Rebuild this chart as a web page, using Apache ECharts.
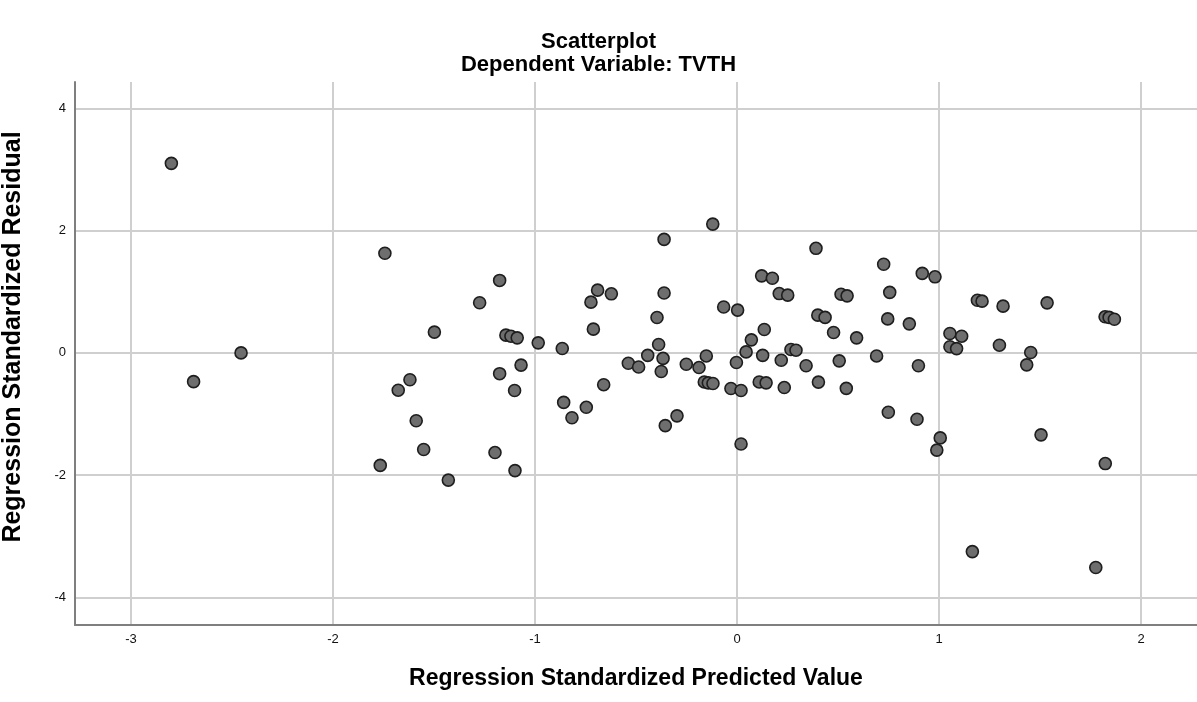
<!DOCTYPE html>
<html>
<head>
<meta charset="utf-8">
<script src="https://cdn.jsdelivr.net/npm/echarts@6/dist/echarts.min.js"></script>
<style>
  html, body { margin: 0; padding: 0; background: #fff; }
  #chart { width: 1197px; height: 702px; }
</style>
</head>
<body>
<div id="chart"></div>
<script>
// Regression Standardized Predicted Value (x)
var predicted = [
  -2.80, -2.69, -2.455, -1.743, -1.498, -1.619, -1.677, -1.588, -1.551, -1.766,
  -0.120, -0.361, 0.391, -1.175, -1.274, -0.690, -0.622, -0.723, -0.361, 0.122,
  0.175, 0.209, 0.251, -0.066, 0.003, -1.144, -1.119, -1.088, -0.984, -0.865,
  -0.711, -0.396, 0.135, 0.071, 0.045, -0.388, -0.442, -0.366, -0.152, 0.127,
  0.267, 0.292, 0.219, 0.342, -0.003, -0.538, -0.487, -0.251, -0.188, -0.375,
  -1.175, -1.069, -1.101, -0.660, -0.858, -0.817, -0.746, -0.355, -0.297, -0.162,
  -0.142, -0.119, -0.030, 0.020, 0.020, 0.110, 0.144, 0.234, 0.403, -1.198,
  -1.099, -1.429, 0.726, 0.917, 0.980, 0.515, 0.545, 0.756, 0.400, 0.436,
  0.746, 0.853, 0.478, 0.592, 0.691, 0.506, 0.898, 0.541, 1.190, 1.213,
  1.317, 1.535, 1.822, 1.842, 1.868, 1.054, 1.112, 1.054, 1.087, 1.299,
  1.454, 1.434, 0.749, 0.891, 1.006, 0.989, 1.505, 1.823, 1.165, 1.776
]
// Regression Standardized Residual (y)
var residual = [
  3.10, -0.47, 0.00, 1.63, 0.34, -0.44, -0.61, -1.11, -1.58, -1.84,
  2.106, 1.856, 1.71, 1.185, 0.82, 1.026, 0.966, 0.83, 0.98, 1.26,
  1.22, 0.97, 0.944, 0.75, 0.70, 0.29, 0.273, 0.246, 0.164, 0.072,
  0.388, 0.579, 0.383, 0.213, 0.016, 0.137, -0.04, -0.09, -0.05, -0.04,
  0.056, 0.044, -0.12, -0.21, -0.157, -0.17, -0.23, -0.185, -0.24, -0.305,
  -0.34, -0.20, -0.615, -0.52, -0.81, -1.06, -0.89, -1.19, -1.03, -0.475,
  -0.49, -0.50, -0.583, -0.615, -1.49, -0.475, -0.49, -0.567, -0.478, -1.63,
  -1.925, -2.08, 1.45, 1.30, 1.244, 0.96, 0.933, 0.99, 0.617, 0.58,
  0.556, 0.475, 0.334, 0.246, -0.05, -0.13, -0.21, -0.58, 0.86, 0.846,
  0.764, 0.818, 0.59, 0.58, 0.55, 0.317, 0.273, 0.10, 0.07, 0.126,
  0.006, -0.196, -0.97, -1.085, -1.39, -1.59, -1.34, -1.81, -3.25, -3.51
]

var points = predicted.map(function (x, i) { return [x, residual[i]] })

var font = "'Liberation Sans', Arial, sans-serif"
var chart = echarts.init(document.getElementById('chart'))
var option = {
  animation: false,
  title: [
    {
      text: 'Scatterplot',
      left: 'center',
      top: 26,
      textStyle: { fontFamily: font, fontSize: 22, fontWeight: 'bold', color: '#000' }
    },
    {
      text: 'Dependent Variable: TVTH',
      left: 'center',
      top: 49,
      textStyle: { fontFamily: font, fontSize: 22, fontWeight: 'bold', color: '#000' }
    }
  ],
  grid: {
    left: 75,
    right: 0,
    top: 82,
    bottom: 77
  },
  xAxis: {
    type: 'value',
    min: -3.277,
    max: 2.277,
    splitNumber: 5,
    name: 'Regression Standardized Predicted Value',
    nameLocation: 'middle',
    nameGap: 42,
    nameTextStyle: { fontFamily: font, fontSize: 23, fontWeight: 'bold', color: '#000' },
    axisLine: { onZero: false, lineStyle: { color: '#7f7f7f', width: 2 } },
    axisTick: { show: false },
    axisLabel: {
      fontFamily: font, fontSize: 13, color: '#111', margin: 8,
      showMinLabel: false, showMaxLabel: false
    },
    splitLine: {
      show: true,
      showMinLine: false,
      showMaxLine: false,
      lineStyle: { color: '#cfcfcf', width: 2 }
    }
  },
  yAxis: {
    type: 'value',
    min: -4.45,
    max: 4.43,
    splitNumber: 4,
    axisLine: { show: true, onZero: false, lineStyle: { color: '#7f7f7f', width: 2 } },
    axisTick: { show: false },
    axisLabel: {
      fontFamily: font, fontSize: 13, color: '#111', margin: 9,
      showMinLabel: false, showMaxLabel: false
    },
    splitLine: {
      show: true,
      showMinLine: false,
      showMaxLine: false,
      lineStyle: { color: '#cfcfcf', width: 2 }
    }
  },
  graphic: [
    {
      type: 'text',
      x: 13,
      y: 337,
      rotation: Math.PI / 2,
      style: {
        text: 'Regression Standardized Residual',
        fontFamily: font,
        fontSize: 25,
        fontWeight: 'bold',
        fill: '#000',
        textAlign: 'center',
        textVerticalAlign: 'middle'
      }
    }
  ],
  series: [
    {
      type: 'scatter',
      data: points,
      symbol: 'circle',
      symbolSize: 12,
      itemStyle: {
        color: '#6e6e6e',
        borderColor: '#1e1e1e',
        borderWidth: 1.6,
        opacity: 1
      }
    }
  ]
}
option && chart.setOption(option)
</script>
</body>
</html>
